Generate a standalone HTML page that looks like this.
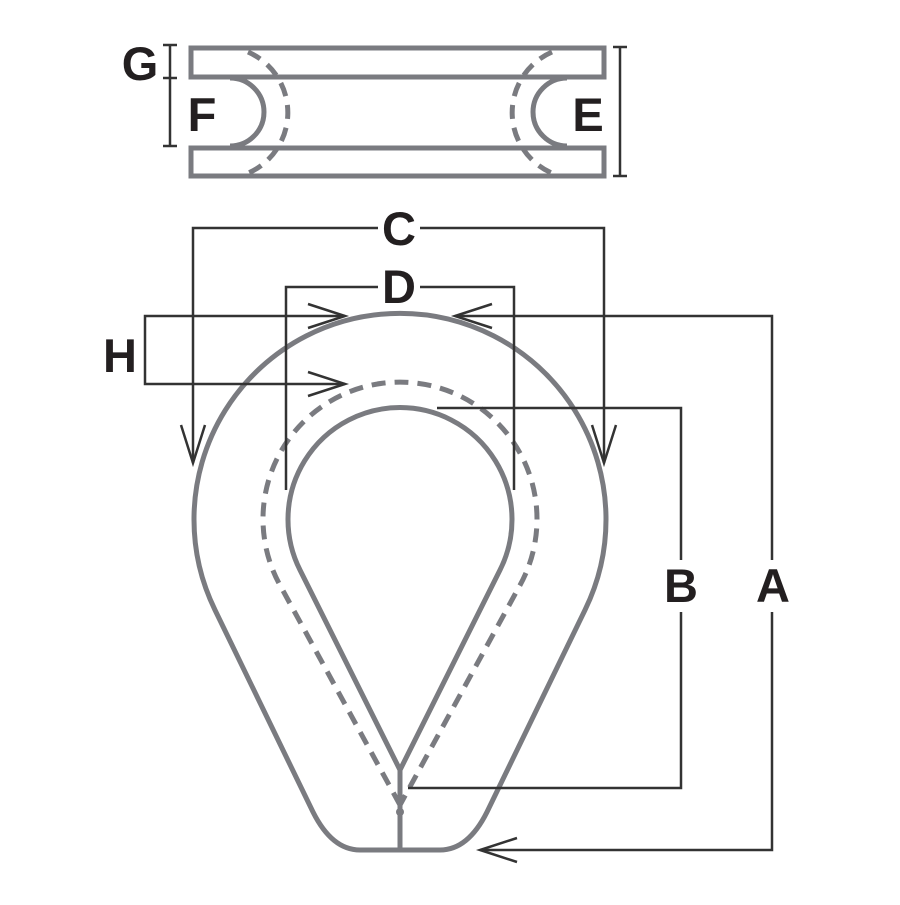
<!DOCTYPE html>
<html><head><style>body{margin:0;background:#fff}</style></head><body>
<svg width="900" height="900" viewBox="0 0 900 900" xmlns="http://www.w3.org/2000/svg">
<g fill="none" stroke="#7a7b80" stroke-width="5">
<rect x="191" y="48" width="413" height="29"/>
<rect x="191" y="148" width="413" height="28"/>
<path d="M230,78 A34 34 0 0 1 230,146"/>
<path d="M567,78 A34 34 0 0 0 567,146"/>
<path d="M248,52 A66 66 0 0 1 246,174" stroke-dasharray="14 9"/>
<path d="M552,52 A66 66 0 0 0 554,174" stroke-dasharray="14 9"/>
<path d="M215,610 A206 206 0 1 1 585,610 L487,812 Q468,850 440,850 L360,850 Q332,850 313,812 Z"/>
<path d="M400,770 L300,570 A112 112 0 1 1 500,570 Z"/>
<path d="M400,805 L281,587 A137 137 0 1 1 519,587 Z" stroke-dasharray="14 9"/>
<line x1="400" y1="770" x2="400" y2="850"/>
</g>
<circle cx="400" cy="812" r="4" fill="#7a7b80"/>
<g fill="none" stroke="#333" stroke-width="2.5">
<path d="M170,45 V146 M163,45 H177 M163,78 H177 M163,146 H177"/>
<path d="M620,47 V176 M613,47 H627 M613,176 H627"/>
<path d="M193,463 V228 H378 M420,228 H604 V463"/>
<path d="M181,425 L193,463 L205,425 M592,425 L604,463 L616,425"/>
<path d="M286,490 V287 H378 M420,287 H514 V490"/>
<path d="M345,316 H145 V384 H345"/>
<path d="M308,304 L345,316 L308,328 M308,372 L345,384 L308,396"/>
<path d="M455,316 H772 V560 M772,612 V850 H480"/>
<path d="M492,304 L455,316 L492,328 M517,838 L480,850 L517,862"/>
<path d="M437,408 H681 V560 M681,612 V788 H408"/>
</g>
<g font-family="Liberation Sans, sans-serif" font-weight="bold" font-size="47" fill="#231f20" text-anchor="middle">
<text x="140" y="80">G</text>
<text x="202" y="131">F</text>
<text x="588" y="131">E</text>
<text x="399" y="245">C</text>
<text x="399" y="303">D</text>
<text x="120" y="372">H</text>
<text x="681" y="602">B</text>
<text x="773" y="602">A</text>
</g>
</svg>
</body></html>
